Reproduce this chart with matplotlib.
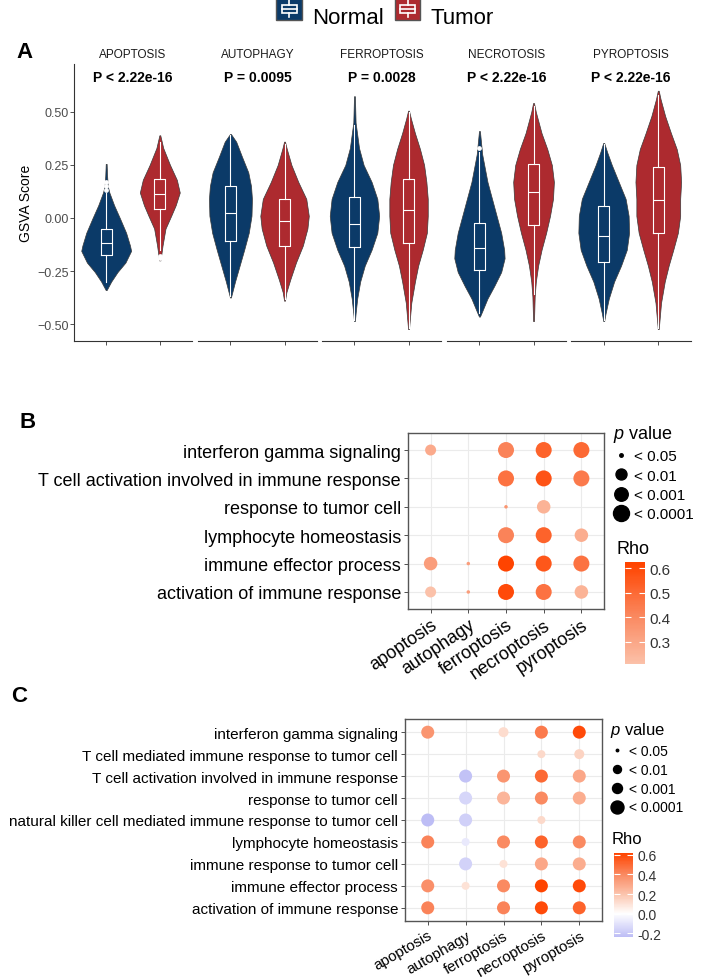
import numpy as np
import matplotlib
matplotlib.use('Agg')
import matplotlib.pyplot as plt
from matplotlib.colors import LinearSegmentedColormap, Normalize
from matplotlib.cm import ScalarMappable
from matplotlib.legend_handler import HandlerBase
from matplotlib.patches import Rectangle, Patch
from matplotlib.lines import Line2D

plt.rcParams['font.family'] = ['Liberation Sans', 'DejaVu Sans']
plt.rcParams['mathtext.fontset'] = 'custom'
plt.rcParams['mathtext.it'] = 'Liberation Sans:italic'
plt.rcParams['mathtext.rm'] = 'Liberation Sans'

# ---------------- panel A data ----------------
pathways = ['APOPTOSIS', 'AUTOPHAGY', 'FERROPTOSIS', 'NECROTOSIS', 'PYROPTOSIS']
pvals = ['P < 2.22e-16', 'P = 0.0095', 'P = 0.0028', 'P < 2.22e-16', 'P < 2.22e-16']

# violin outlines: score levels and relative density
normal_y = [
    [0.255, 0.20, 0.15, 0.12, 0.06, 0.00, -0.07, -0.13, -0.155, -0.21, -0.255, -0.30, -0.34],
    [0.396, 0.36, 0.29, 0.215, 0.15, 0.09, 0.01, -0.07, -0.15, -0.225, -0.30, -0.35, -0.375],
    [0.574, 0.45, 0.33, 0.25, 0.17, 0.09, 0.01, -0.07, -0.15, -0.225, -0.30, -0.38, -0.45, -0.486],
    [0.41, 0.30, 0.17, 0.09, 0.01, -0.07, -0.15, -0.19, -0.255, -0.32, -0.38, -0.445, -0.465],
    [0.354, 0.31, 0.25, 0.17, 0.09, 0.01, -0.07, -0.15, -0.225, -0.30, -0.38, -0.45, -0.486],
]
normal_d = [
    [2, 4, 7, 14, 35, 60, 88, 105, 110, 85, 50, 22, 2],
    [2, 25, 50, 78, 90, 94, 92, 80, 60, 40, 20, 8, 2],
    [2, 5, 20, 40, 75, 100, 108, 100, 75, 45, 25, 12, 5, 2],
    [2, 12, 35, 55, 75, 95, 108, 110, 95, 65, 35, 10, 2],
    [2, 15, 35, 65, 95, 108, 110, 100, 75, 45, 22, 8, 2],
]
tumor_y = [
    [0.39, 0.33, 0.25, 0.18, 0.12, 0.06, 0.01, -0.05, -0.13, -0.20],
    [0.36, 0.325, 0.25, 0.17, 0.09, 0.01, -0.05, -0.13, -0.21, -0.29, -0.35, -0.39],
    [0.506, 0.47, 0.40, 0.325, 0.25, 0.17, 0.09, 0.01, -0.07, -0.15, -0.225, -0.30, -0.40, -0.524],
    [0.542, 0.50, 0.40, 0.325, 0.25, 0.17, 0.09, 0.01, -0.07, -0.15, -0.225, -0.30, -0.37, -0.486],
    [0.60, 0.56, 0.48, 0.40, 0.325, 0.25, 0.17, 0.09, 0.01, -0.07, -0.15, -0.225, -0.30, -0.40, -0.524],
]
tumor_d = [
    [2, 15, 45, 75, 88, 70, 50, 25, 12, 3],
    [2, 10, 30, 60, 95, 106, 100, 80, 50, 25, 8, 2],
    [2, 10, 28, 50, 68, 78, 84, 84, 80, 62, 42, 28, 12, 2],
    [2, 10, 35, 60, 80, 89, 85, 72, 55, 35, 20, 10, 5, 2],
    [2, 10, 30, 55, 80, 95, 99, 95, 95, 85, 65, 45, 28, 12, 2],
]
# boxplot stats: whislo, q1, median, q3, whishi
normal_box = [
    [-0.30, -0.175, -0.12, -0.052, 0.12],
    [-0.37, -0.107, 0.025, 0.153, 0.39],
    [-0.48, -0.138, -0.028, 0.097, 0.44],
    [-0.45, -0.244, -0.143, -0.024, 0.31],
    [-0.48, -0.209, -0.087, 0.055, 0.35],
]
tumor_box = [
    [-0.15, 0.042, 0.113, 0.182, 0.36],
    [-0.38, -0.13, -0.013, 0.09, 0.35],
    [-0.52, -0.118, 0.036, 0.182, 0.50],
    [-0.36, -0.033, 0.124, 0.255, 0.53],
    [-0.52, -0.071, 0.083, 0.242, 0.58],
]
normal_fliers = [[0.13, 0.15, 0.17], [], [], [0.33], []]
tumor_fliers = [[-0.18, -0.19], [], [], [], []]

# ---------------- panel B / C data ----------------
cols = ['apoptosis', 'autophagy', 'ferroptosis', 'necroptosis', 'pyroptosis']

rows_b = ['interferon gamma signaling',
          'T cell activation involved in immune response',
          'response to tumor cell',
          'lymphocyte homeostasis',
          'immune effector process',
          'activation of immune response']
rho_b = [[0.29, None, 0.42, 0.52, 0.50],
         [None, None, 0.47, 0.57, 0.45],
         [None, None, 0.36, 0.26, None],
         [None, None, 0.42, 0.52, 0.28],
         [0.33, 0.33, 0.625, 0.56, 0.47],
         [0.21, 0.33, 0.60, 0.47, 0.26]]
psig_b = [[2, 0, 4, 4, 4],
          [0, 0, 4, 4, 4],
          [0, 0, 1, 3, 0],
          [0, 0, 4, 4, 3],
          [3, 1, 4, 4, 4],
          [2, 1, 4, 4, 3]]

rows_c = ['interferon gamma signaling',
          'T cell mediated immune response to tumor cell',
          'T cell activation involved in immune response',
          'response to tumor cell',
          'natural killer cell mediated immune response to tumor cell',
          'lymphocyte homeostasis',
          'immune response to tumor cell',
          'immune effector process',
          'activation of immune response']
rho_c = [[0.36, None, 0.12, 0.45, 0.60],
         [None, None, None, 0.13, 0.15],
         [None, -0.22, 0.36, 0.50, 0.30],
         [None, -0.15, 0.25, 0.40, 0.28],
         [-0.24, -0.17, None, 0.13, None],
         [0.42, -0.08, 0.40, 0.52, 0.40],
         [None, -0.16, 0.10, 0.30, 0.28],
         [0.38, 0.10, 0.40, 0.62, 0.60],
         [0.42, None, 0.42, 0.60, 0.52]]
psig_c = [[4, 0, 3, 4, 4],
          [0, 0, 0, 2, 3],
          [0, 4, 4, 4, 4],
          [0, 4, 4, 4, 4],
          [4, 4, 0, 2, 0],
          [4, 2, 4, 4, 4],
          [0, 4, 2, 4, 4],
          [4, 2, 4, 4, 4],
          [4, 0, 4, 4, 4]]
p_labels = ['< 0.05', '< 0.01', '< 0.001', '< 0.0001']

C_NORMAL = '#0b3a68'
C_TUMOR = '#ad2a2f'

W, H = 706, 978
fig = plt.figure(figsize=(7.06, 9.78), dpi=100)


def px_axes(x0, y0, x1, y1):
    return fig.add_axes([x0 / W, 1 - y1 / H, (x1 - x0) / W, (y1 - y0) / H])


class BoxHandler(HandlerBase):
    def create_artists(self, legend, orig, xd, yd, w, h, fontsize, trans):
        bg = Rectangle((xd, yd), w, h, facecolor=orig.get_facecolor(),
                       edgecolor='#555555', lw=1, transform=trans)
        bx = Rectangle((xd + w * 0.2, yd + h * 0.3), w * 0.6, h * 0.4, fill=False,
                       edgecolor='white', lw=1.2, transform=trans)
        l1 = Line2D([xd + w / 2] * 2, [yd + h * 0.1, yd + h * 0.3], color='white', lw=1.2, transform=trans)
        l2 = Line2D([xd + w / 2] * 2, [yd + h * 0.7, yd + h * 0.9], color='white', lw=1.2, transform=trans)
        md = Line2D([xd + w * 0.2, xd + w * 0.8], [yd + h / 2] * 2, color='white', lw=1.2, transform=trans)
        return [bg, bx, l1, l2, md]


# ---------------- panel A ----------------
facets = [(74, 192), (198, 317), (322, 441), (447, 566), (571, 691)]
dmax = max(max(max(d) for d in normal_d), max(max(d) for d in tumor_d))
for i, name in enumerate(pathways):
    ax = px_axes(facets[i][0], 65, facets[i][1], 342)
    vp, widths = [], []
    for ys, ds, bs in [(normal_y[i], normal_d[i], normal_box[i]), (tumor_y[i], tumor_d[i], tumor_box[i])]:
        vp.append(dict(coords=np.array(ys), vals=np.array(ds, dtype=float),
                       mean=bs[2], median=bs[2], min=min(ys), max=max(ys)))
        widths.append(0.93 * max(ds) / dmax)
    parts = ax.violin(vp, positions=[1, 2], widths=widths, showmeans=False,
                      showextrema=False, showmedians=False)
    for body, col in zip(parts['bodies'], [C_NORMAL, C_TUMOR]):
        body.set_facecolor(col)
        body.set_edgecolor('#3a3a3a')
        body.set_linewidth(0.5)
        body.set_alpha(1)
    stats = []
    for bs, fl in [(normal_box[i], normal_fliers[i]), (tumor_box[i], tumor_fliers[i])]:
        stats.append(dict(whislo=bs[0], q1=bs[1], med=bs[2], q3=bs[3], whishi=bs[4], fliers=fl))
    ax.bxp(stats, positions=[1, 2], widths=0.2, showcaps=False,
           boxprops=dict(color='white', lw=0.8),
           whiskerprops=dict(color='white', lw=0.8),
           medianprops=dict(color='white', lw=0.8),
           flierprops=dict(marker='o', markersize=2.4, markerfacecolor='white',
                           markeredgecolor='white'))
    ax.set_xlim(0.4, 2.6)
    ax.set_ylim(-0.58, 0.726)
    ax.set_xticks([1, 2])
    ax.set_xticklabels([])
    for s in ['top', 'right']:
        ax.spines[s].set_visible(False)
    ax.spines['bottom'].set_color('#333333')
    ax.spines['left'].set_color('#333333')
    ax.tick_params(axis='x', length=3, color='#333333', width=0.6)
    if i == 0:
        ax.set_yticks([-0.5, -0.25, 0, 0.25, 0.5])
        ax.set_yticklabels(['\u22120.50', '\u22120.25', '0.00', '0.25', '0.50'])
        ax.tick_params(axis='y', length=3, color='#333333', width=0.6,
                       labelsize=9, labelcolor='#4d4d4d', pad=1)
        ax.set_ylabel('GSVA Score', fontsize=10, labelpad=3)
    else:
        ax.spines['left'].set_visible(False)
        ax.tick_params(axis='y', left=False, labelleft=False)
    ax.text(0.5, 1 + 10 / 277, name, transform=ax.transAxes, ha='center',
            va='center', fontsize=8.5, color='#1a1a1a')
    ax.text(1.5, 0.665, pvals[i], ha='center', va='center', fontsize=10,
            fontweight='bold')

fig.legend(handles=[Patch(facecolor=C_NORMAL, label='Normal'),
                    Patch(facecolor=C_TUMOR, label='Tumor')],
           handler_map={Patch: BoxHandler()}, loc='center',
           bbox_to_anchor=(385 / W, 1 - 17 / H), ncol=2, frameon=False,
           fontsize=16, handlelength=1.15, handleheight=1.1,
           columnspacing=0.5, handletextpad=0.45, borderpad=0)

# ---------------- colour scale (gradient with white at 0) ----------------
cmap = LinearSegmentedColormap.from_list('rho', [
    (0.0, '#5353e6'),
    (0.5 - 0.2 / 1.24, '#c8c8f7'),
    (0.5, '#ffffff'),
    (0.5 + 0.2 / 1.24, '#fbc4ad'),
    (0.5 + 0.4 / 1.24, '#fa8a62'),
    (1.0, '#ff4400')])
norm = Normalize(-0.62, 0.62)


def dot_panel(box, rows, rho, psig, dot_px, ylab_fs, xlab_fs, rot,
              leg_xy, leg_fs, leg_title_fs, rho_xy, cax_box, cticks):
    ax = px_axes(*box)
    r = np.array(rho, dtype=float)
    p = np.array(psig)
    n = len(rows)
    yy, xx = np.nonzero(p > 0)
    sizes = (np.array(dot_px)[p[yy, xx]] * 0.72) ** 2
    ax.scatter(xx + 1, n - yy, s=sizes, c=r[yy, xx], cmap=cmap, norm=norm,
               edgecolors='none', zorder=3)
    ax.set_xlim(0.4, 5.6)
    ax.set_ylim(0.4, n + 0.6)
    ax.set_xticks(np.arange(1, 6))
    ax.set_xticklabels(cols, rotation=rot, ha='right', rotation_mode='anchor',
                       fontsize=xlab_fs)
    ax.set_yticks(np.arange(n, 0, -1))
    ax.set_yticklabels(rows, fontsize=ylab_fs)
    ax.tick_params(length=3, color='#333333', width=0.6, pad=2)
    ax.grid(color='#ebebeb', lw=0.8)
    ax.set_axisbelow(True)
    for s in ax.spines.values():
        s.set_color('#555555')
        s.set_linewidth(1)

    handles = [Line2D([], [], ls='', marker='o', color='black',
                      markersize=dot_px[k + 1] * 0.72, label=p_labels[k]) for k in range(4)]
    fig.legend(handles=handles, title='$p$ value', loc='upper left',
               bbox_to_anchor=(leg_xy[0] / W, 1 - leg_xy[1] / H), frameon=False,
               fontsize=leg_fs, title_fontsize=leg_title_fs, alignment='left',
               handlelength=1.0, handletextpad=0.4, labelspacing=0.35,
               borderpad=0, borderaxespad=0)
    fig.text(rho_xy[0] / W, 1 - rho_xy[1] / H, 'Rho', fontsize=leg_title_fs,
             va='center', ha='left')
    cax = px_axes(*cax_box)
    vals = r[~np.isnan(r)]
    sm = ScalarMappable(norm=norm, cmap=cmap)
    cb = fig.colorbar(sm, cax=cax, boundaries=np.linspace(vals.min(), vals.max(), 200),
                      ticks=cticks)
    cb.outline.set_visible(False)
    cb.ax.set_yticklabels(['%.1f' % t for t in cticks])
    cax.tick_params(direction='in', color='white', length=4, width=0.8,
                    left=True, right=True, labelsize=leg_fs, labelcolor='#333333', pad=3)
    return ax


dot_panel((408, 434, 604, 610), rows_b, rho_b, psig_b, [0, 3.5, 11, 13.5, 16],
          13, 13, 34, (613, 424), 11, 13, (616, 550), (625, 563, 645, 665),
          [0.3, 0.4, 0.5, 0.6])
dot_panel((405, 720, 602, 922), rows_c, rho_c, psig_c, [0, 2.5, 8, 10, 13],
          11, 11, 30, (610, 721), 10, 12, (612, 840), (614, 854, 633, 938),
          [-0.2, 0.0, 0.2, 0.4, 0.6])

fig.text(24 / W, 1 - 53 / H, 'A', fontsize=16, fontweight='bold', ha='center', va='center')
fig.text(28 / W, 1 - 422 / H, 'B', fontsize=16, fontweight='bold', ha='center', va='center')
fig.text(19 / W, 1 - 697 / H, 'C', fontsize=16, fontweight='bold', ha='center', va='center')

fig.savefig('out.png', dpi=100)
